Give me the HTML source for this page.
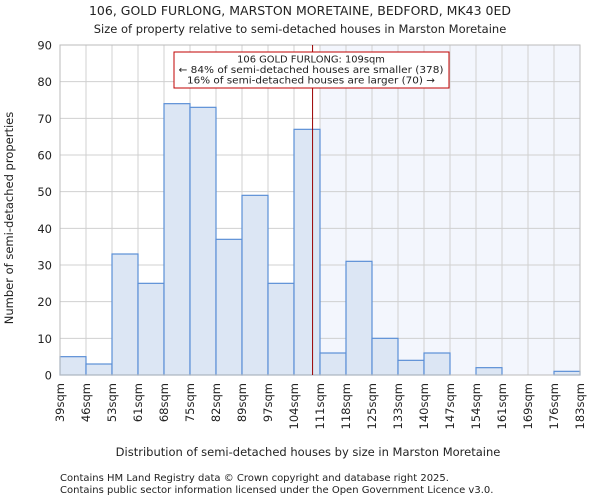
<!DOCTYPE html>
<html><head><meta charset="utf-8"><style>
body{margin:0;background:#fff;font-family:"DejaVu Sans",sans-serif;}
svg text{font-family:"DejaVu Sans",sans-serif;fill:#222;}
</style></head><body>
<svg id="chart" width="600" height="500">
<text x="300" y="15" text-anchor="middle" font-size="12.5">106, GOLD FURLONG, MARSTON MORETAINE, BEDFORD, MK43 0ED</text>
<text x="300" y="33" text-anchor="middle" font-size="11.5">Size of property relative to semi-detached houses in Marston Moretaine</text>
<g id="plot"></g>
<text x="308" y="456" text-anchor="middle" font-size="11.5">Distribution of semi-detached houses by size in Marston Moretaine</text>
<text transform="translate(13,218) rotate(-90)" text-anchor="middle" font-size="11.5">Number of semi-detached properties</text>
<text x="60" y="481" font-size="10">Contains HM Land Registry data © Crown copyright and database right 2025.</text>
<text x="60" y="493" font-size="10">Contains public sector information licensed under the Open Government Licence v3.0.</text>
</svg>
<script>
const categories=["39sqm","46sqm","53sqm","61sqm","68sqm","75sqm","82sqm","89sqm","97sqm","104sqm","111sqm","118sqm","125sqm","133sqm","140sqm","147sqm","154sqm","161sqm","169sqm","176sqm","183sqm"];
const counts=[5,3,33,25,74,73,37,49,25,67,6,31,10,4,6,0,2,0,0,1];
const yTicks=[0,10,20,30,40,50,60,70,80,90];
const propertySize=109;
const binEdges=[39,46,53,61,68,75,82,89,97,104,111,118,125,133,140,147,154,161,169,176,183];
const L=60,R=580,T=45,B=375,yMax=90;
const n=counts.length,bw=(R-L)/n;
const xi=i=>L+i*bw;
const y=v=>B-(v/yMax)*(B-T);
function xv(v){for(let i=0;i<binEdges.length-1;i++){if(v>=binEdges[i]&&v<=binEdges[i+1])return xi(i)+bw*(v-binEdges[i])/(binEdges[i+1]-binEdges[i]);}return R;}
const ns="http://www.w3.org/2000/svg",g=document.getElementById('plot');
function mk(t,a,p){const e=document.createElementNS(ns,t);for(const k in a)e.setAttribute(k,a[k]);(p||g).appendChild(e);return e;}
const lineX=xv(propertySize);
let shadeStart=xi(binEdges.findIndex(e=>e>propertySize));
let sh=mk('rect',{x:shadeStart,y:T,width:R-shadeStart,height:B-T,fill:'#f3f6fd'});


for(let i=0;i<=n;i++){let l=mk('line',{x1:xi(i),x2:xi(i),y1:T,y2:B,stroke:'#d0d0d0','stroke-width':1});

}
yTicks.forEach(t=>{let l=mk('line',{x1:L,x2:R,y1:y(t),y2:y(t),stroke:'#d0d0d0','stroke-width':1});


let tx=mk('text',{x:L-8,y:y(t)+4.5,'text-anchor':'end','font-size':'11.5'});tx.textContent=t;

});
counts.forEach((c,i)=>{if(c<=0)return;let r=mk('rect',{x:xi(i),y:y(c),width:bw,height:B-y(c),fill:'#dce6f4',stroke:'#5b8fd6','stroke-width':1.2});

});
categories.forEach((c,i)=>{let tx=mk('text',{transform:`translate(${xi(i)+4},${B+8}) rotate(-90)`,'text-anchor':'end','font-size':'11.5'});tx.textContent=c;

});
let ax=mk('rect',{x:L,y:T,width:R-L,height:B-T,fill:'none',stroke:'#bbb','stroke-width':1});


let pl=mk('line',{x1:lineX,x2:lineX,y1:T,y2:B,stroke:'#9a0000','stroke-width':1});


let bx=mk('rect',{x:174,y:52,width:275,height:36,fill:'#fff',stroke:'#c00000','stroke-width':1});


["106 GOLD FURLONG: 109sqm","← 84% of semi-detached houses are smaller (378)","16% of semi-detached houses are larger (70) →"].forEach((s,k)=>{let tx=mk('text',{x:311,y:62.5+k*10.5,'text-anchor':'middle','font-size':'9.9',textLength:k==0?'':'','lengthAdjust':'spacingAndGlyphs'});tx.textContent=s;
if(k==1)tx.setAttribute('textLength','265');
if(k==2)tx.setAttribute('textLength','248');

});
</script>
</body></html>
